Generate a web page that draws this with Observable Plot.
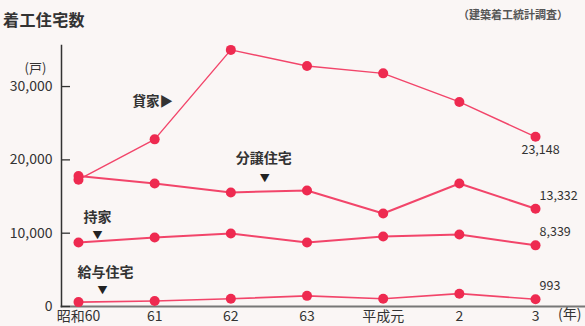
<!DOCTYPE html>
<html><head><meta charset="utf-8">
<script src="https://cdn.jsdelivr.net/npm/d3@7"></script>
<script src="https://cdn.jsdelivr.net/npm/@observablehq/plot@0.6"></script>
<style>
body{margin:0;background:#faf6f5;font-family:"Noto Sans CJK JP",sans-serif;color:#333;}
#wrap{position:relative;width:585px;height:326px;overflow:hidden;}
#title{position:absolute;left:3px;top:7px;font-size:16px;font-weight:600;letter-spacing:0.4px;color:#333;white-space:nowrap;}
#source{position:absolute;left:458px;top:6px;font-size:11px;font-weight:600;color:#555;white-space:nowrap;}
#chart{position:absolute;left:0;top:0;}
</style></head>
<body>
<div id="wrap">
<div id="chart"></div>
<div id="title">着工住宅数</div>
<div id="source">（建築着工統計調査）</div>
</div>
<script>
const years = ["昭和60","61","62","63","平成元","2","3"];
const rental   = [17300, 22800, 35000, 32800, 31800, 27900, 23148]; // 貸家
const condo    = [17800, 16780, 15550, 15830, 12690, 16780, 13332]; // 分譲住宅
const owned    = [8730, 9410, 9960, 8730, 9550, 9820, 8339];        // 持家
const company  = [600, 750, 1050, 1450, 1050, 1750, 993];           // 給与住宅
const yTicks = [0, 10000, 20000, 30000];
const yUnit = "(戸)";
const xUnit = "(年)";

const seriesList = [
  {name:"貸家", values: rental, sw: 1.4},
  {name:"分譲住宅", values: condo, sw: 2},
  {name:"持家", values: owned, sw: 2},
  {name:"給与住宅", values: company, sw: 1.6}
];
const table = seriesList.flatMap(s => s.values.map((v, i) => ({series: s.name, i, v})));
const pt = (name, i) => table.filter(d => d.series === name && d.i === i);

const lineColor = "#f2456a";
const dotColor = "#ee2a50";
const fs = "Noto Sans CJK JP";

const marks = [
  Plot.frame({anchor: "bottom", stroke: "#777", strokeWidth: 2}),
  Plot.frame({anchor: "left", stroke: "#333", strokeWidth: 1.5}),
  Plot.axisY({ticks: yTicks, tickSize: -9, fill: "none", stroke: "#333", strokeWidth: 1.3, label: null}),
  Plot.axisY({ticks: yTicks, tickSize: 0, tickPadding: 9, tickFormat: d3.format(","), fontSize: 14, fill: "#333", label: null}),
  Plot.axisX({ticks: d3.range(years.length), tickSize: 0, tickPadding: 5, tickFormat: i => years[i], fontSize: 14, fill: "#333", label: null}),
  Plot.text([xUnit], {text: d => d, frameAnchor: "bottom-right", dx: -4, dy: 12, fontSize: 14, fill: "#333", textAnchor: "end", letterSpacing: 1}),
  Plot.text([yUnit], {text: d => d, frameAnchor: "top-left", dx: -26, dy: 18, fontSize: 13, fill: "#333", textAnchor: "middle", letterSpacing: 2}),
  ...seriesList.map(s => Plot.line(table.filter(d => d.series === s.name), {x: "i", y: "v", stroke: lineColor, strokeWidth: s.sw})),
  Plot.dot(table, {x: "i", y: "v", r: 5, fill: dotColor}),
  // series labels
  Plot.text(pt("貸家", 1), {x: "i", y: "v", text: () => "貸家▶", dx: -2, dy: -38, fontSize: 13.5, fontWeight: 600, fill: "#333"}),
  Plot.text(pt("分譲住宅", 2), {x: "i", y: "v", text: () => "分譲住宅", dx: 33, dy: -34, fontSize: 14, fontWeight: 600, fill: "#333"}),
  Plot.text(pt("分譲住宅", 2), {x: "i", y: "v", text: () => "▼", dx: 34, dy: -14, fontSize: 10, fill: "#222"}),
  Plot.text(pt("持家", 0), {x: "i", y: "v", text: () => "持家", dx: 19, dy: -25, fontSize: 14, fontWeight: 600, fill: "#333"}),
  Plot.text(pt("持家", 0), {x: "i", y: "v", text: () => "▼", dx: 19, dy: -7, fontSize: 10, fill: "#222"}),
  Plot.text(pt("給与住宅", 0), {x: "i", y: "v", text: () => "給与住宅", dx: 27, dy: -30, fontSize: 14, fontWeight: 600, fill: "#333"}),
  Plot.text(pt("給与住宅", 0), {x: "i", y: "v", text: () => "▼", dx: 24, dy: -11, fontSize: 10, fill: "#222"}),
  // end values
  Plot.text(pt("貸家", 6), {x: "i", y: "v", text: d => d3.format(",")(d.v), dx: 5, dy: 13, fontSize: 12.5, fill: "#333"}),
  Plot.text(table.filter(d => d.i === 6 && d.series !== "貸家"), {x: "i", y: "v", text: d => d3.format(",")(d.v), dx: 4, dy: -13, textAnchor: "start", fontSize: 12.5, fill: "#333"})
];

const chart = Plot.plot({
  width: 585, height: 326,
  marginLeft: 61, marginRight: 0, marginTop: 45, marginBottom: 20,
  style: {fontFamily: fs, background: "transparent", overflow: "visible"},
  x: {type: "linear", domain: [-0.223, 6.656], axis: null},
  y: {domain: [0, 35600], axis: null},
  marks
});
document.getElementById("chart").appendChild(chart);
</script>
</body></html>
